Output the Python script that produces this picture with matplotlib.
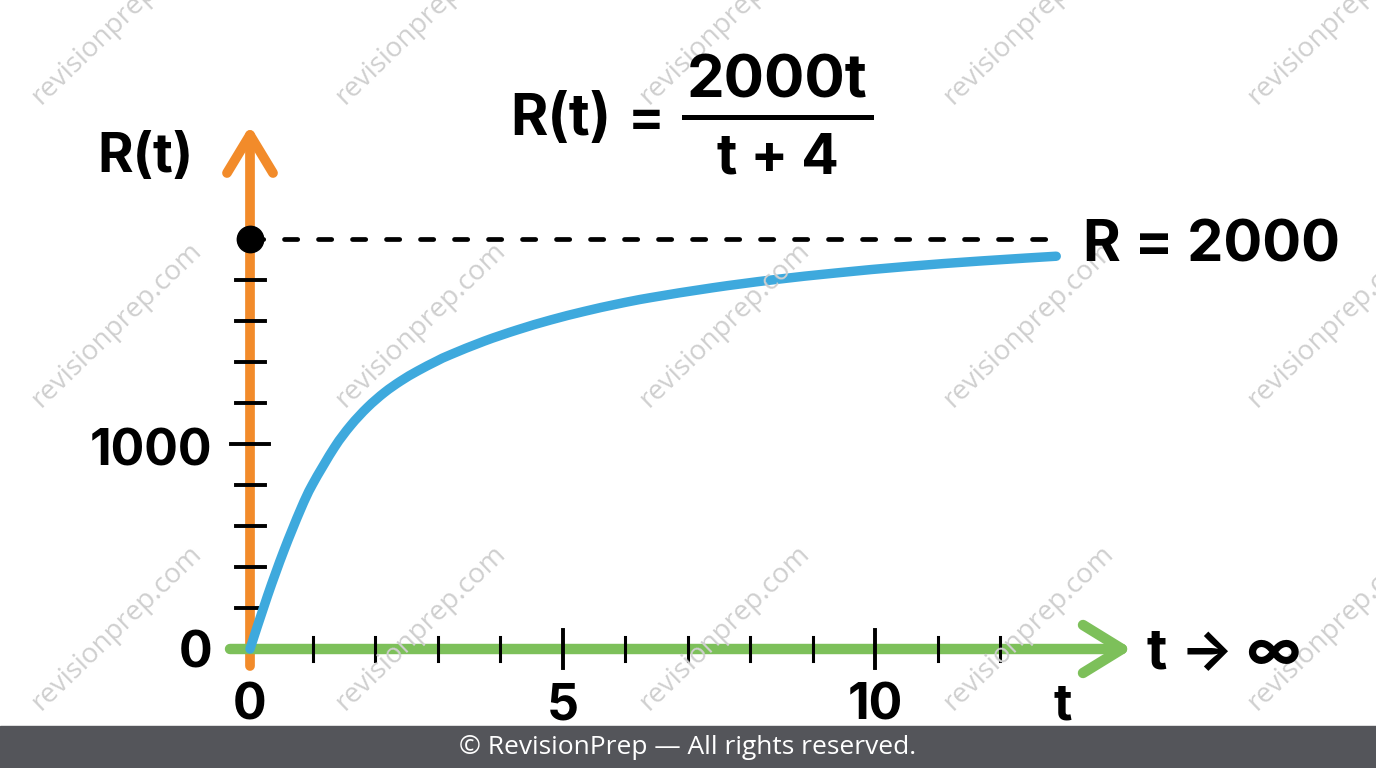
import numpy as np
import matplotlib
matplotlib.use("Agg")
import matplotlib.pyplot as plt
from matplotlib.patches import Rectangle, PathPatch
from matplotlib.lines import Line2D
from matplotlib.path import Path

# curve values
t_vals = [0, 0.28, 0.54, 0.81, 1.0, 1.35, 1.61, 1.88, 2.15, 2.41, 2.68, 2.99, 3.21,
          3.75, 4.28, 4.81, 5.35, 5.88, 6.41, 7.4, 8.37, 9.4, 10.51, 11.7, 12.9]
r_vals = [0, 259, 478, 681, 803, 983, 1090, 1179, 1251, 1307, 1356, 1405, 1436,
          1502, 1557, 1605, 1647, 1683, 1714, 1762, 1801, 1835, 1866, 1893, 1916]

asymptote = 2000
r_ticks = [200, 400, 600, 800, 1000, 1200, 1400, 1600, 1800]
r_major = [1000]
t_ticks = list(range(1, 13))
t_major = [5, 10]
t_labels = [0, 5, 10]
r_labels = [0, 1000]

ORANGE = '#F28B2A'
GREEN = '#7DC05A'
BLUE = '#3EA9DD'
FONT = ['Inter', 'DejaVu Sans']

W, H = 1376, 768
fig = plt.figure(figsize=(W / 100, H / 100), dpi=100)
ax = fig.add_axes([0, 0, 1, 1])
# 62.5 px per unit of t, 205 px per 1000 of R, origin at pixel (250, 649)
ax.set_xlim(-250 / 62.5, (W - 250) / 62.5)
ax.set_ylim(-(H - 649) / 0.205, 649 / 0.205)
ax.axis('off')

PT = 1 / 62.5      # one pixel in t
PR = 1 / 0.205     # one pixel in R


def fpx(x, y):
    return x / W, 1 - y / H


# axes lines with chevron heads
ax.plot([0, 0], [-17 * PR, 514 * PR], color=ORANGE, lw=7, solid_capstyle='round', zorder=2)
ax.plot([-23 * PT, 0, 23 * PT], [476 * PR, 514 * PR, 476 * PR], color=ORANGE, lw=7,
        solid_capstyle='round', solid_joinstyle='round', zorder=2)
ax.plot([-20 * PT, 872 * PT], [0, 0], color=GREEN, lw=7.5, solid_capstyle='round', zorder=3)
ax.plot([833 * PT, 872 * PT, 833 * PT], [24 * PR, 0, -24 * PR], color=GREEN, lw=7.5,
        solid_capstyle='round', solid_joinstyle='round', zorder=3)

# ticks
for r in r_ticks:
    half = 19 if r in r_major else 14.5
    ax.plot([-half * PT, half * PT], [r, r], color='black', lw=2.8, zorder=4)
for t in t_ticks:
    half = 19 if t in t_major else 12
    ax.plot([t, t], [-half * PR, half * PR], color='black', lw=2.8 if t in t_major else 2.2, zorder=4)

# asymptote
ax.plot([0, 13.06], [asymptote, asymptote], color='black', lw=3.4, dashes=(2.8, 4.4),
        dash_capstyle='round', zorder=4)
ax.plot([0], [asymptote], 'o', ms=19, color='black', zorder=6)

# curve: smooth path through the read points
pts = np.column_stack([t_vals, r_vals]).astype(float)
ext = np.vstack([pts[:1], pts, pts[-1:]])
verts = [pts[0]]
codes = [Path.MOVETO]
for i in range(len(pts) - 1):
    c1 = ext[i + 1] + (ext[i + 2] - ext[i]) / 6
    c2 = ext[i + 2] - (ext[i + 3] - ext[i + 1]) / 6
    verts += [c1, c2, pts[i + 1]]
    codes += [Path.CURVE4] * 3
ax.add_patch(PathPatch(Path(verts, codes), fill=False, edgecolor=BLUE, lw=6.8,
                       capstyle='round', joinstyle='round', zorder=5))

# tick labels
for r in r_labels:
    off = -22 if r else -19
    ax.annotate(str(r), xy=(0, r), xytext=(-38, off), textcoords='offset pixels',
                ha='right', va='baseline', fontsize=36, fontweight='bold', family=FONT)
for t in t_labels:
    ax.annotate(str(t), xy=(t, 0), xytext=(0, -71), textcoords='offset pixels',
                ha='center', va='baseline', fontsize=36, fontweight='bold', family=FONT)
ax.annotate('t', xy=(13, 0), xytext=(0, -71), textcoords='offset pixels',
            ha='center', va='baseline', fontsize=36, fontweight='bold', family=FONT)

fig.text(*fpx(1147, 668), 't \u2192 \u221e', ha='left', va='baseline', fontsize=40,
         fontweight='bold', family=FONT)
fig.text(*fpx(1083, 262), 'R = 2000', ha='left', va='baseline', fontsize=41.5,
         fontweight='bold', family=FONT)
fig.text(*fpx(97, 172), 'R(t)', ha='left', va='baseline', fontsize=39,
         fontweight='bold', family=FONT)

# formula
fig.text(*fpx(510, 135), 'R(t)', ha='left', va='baseline', fontsize=41,
         fontweight='bold', family=FONT)
fig.text(*fpx(646, 135), '=', ha='center', va='baseline', fontsize=39,
         fontweight='bold', family=FONT)
fig.text(*fpx(777, 97), '2000t', ha='center', va='baseline', fontsize=43,
         fontweight='bold', family=FONT)
fig.text(*fpx(778, 173), 't + 4', ha='center', va='baseline', fontsize=40,
         fontweight='bold', family=FONT)
x0, y0 = fpx(684, 117)
x1, _ = fpx(871, 117)
fig.add_artist(Line2D([x0, x1], [y0, y0], color='black', lw=3.6, transform=fig.transFigure))

# watermarks
for i in range(5):
    for j in range(3):
        fig.text(*fpx(117 + 304 * i, 22 + 303 * j), 'revisionprep.com', rotation=44,
                 rotation_mode='anchor', ha='center', va='center', fontsize=20,
                 color='#cfcfcf', family='Open Sans', zorder=1)

# footer
fig.add_artist(Rectangle((0, 0), 1, 42 / H, transform=fig.transFigure,
                         color='#54555a', zorder=10))
fig.text(0.5, 1 - 748 / H, '\u00a9 RevisionPrep \u2014 All rights reserved.', ha='center',
         va='center', fontsize=19, color='white', family='Open Sans', zorder=11)

fig.savefig('out.png', dpi=100)
